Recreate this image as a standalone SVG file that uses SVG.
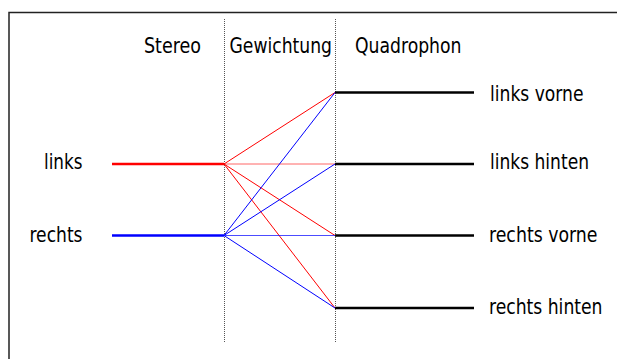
<svg xmlns="http://www.w3.org/2000/svg" width="617" height="359" viewBox="0 0 617 359">
<style>
text{font-family:"DejaVu Sans Condensed","DejaVu Sans",sans-serif;font-size:21px;fill:#000}
.frame{stroke:#222;stroke-width:1.5;fill:none}
.dot{stroke:#555;stroke-width:1;stroke-dasharray:1,1;fill:none}
.out{stroke:#000;stroke-width:2.5;fill:none}
.inR{stroke:#f00;stroke-width:2.5;fill:none}
.inB{stroke:#00f;stroke-width:2.5;fill:none}
.r{stroke:#f00;stroke-width:1;fill:none}
.b{stroke:#00f;stroke-width:1;fill:none}
</style>
<rect width="617" height="359" fill="#fff"/>
<path class="frame" d="M9,359 V12.5 H617"/>
<g id="headers">
<text x="144" y="52.5" textLength="57" lengthAdjust="spacingAndGlyphs">Stereo</text>
<text x="229.5" y="52.5" textLength="102.5" lengthAdjust="spacingAndGlyphs">Gewichtung</text>
<text x="355" y="52.5" textLength="106.5" lengthAdjust="spacingAndGlyphs">Quadrophon</text>
</g>
<g id="dividers">
<line class="dot" x1="224.5" y1="19" x2="224.5" y2="343"/>
<line class="dot" x1="335.5" y1="19" x2="335.5" y2="343"/>
</g>
<g id="links">
<text x="44" y="169" textLength="38.5" lengthAdjust="spacingAndGlyphs">links</text>
<line class="inR" x1="112" y1="164" x2="224" y2="164"/>
</g>
<g id="rechts">
<text x="29.5" y="241.5" textLength="53" lengthAdjust="spacingAndGlyphs">rechts</text>
<line class="inB" x1="112" y1="235.5" x2="224" y2="235.5"/>
</g>
<g id="links-vorne">
<line class="out" x1="335" y1="92.5" x2="474" y2="92.5"/>
<text x="490" y="100.5" textLength="93.5" lengthAdjust="spacingAndGlyphs">links vorne</text>
</g>
<g id="links-hinten">
<line class="out" x1="335" y1="164" x2="474" y2="164"/>
<text x="490" y="169" textLength="99" lengthAdjust="spacingAndGlyphs">links hinten</text>
</g>
<g id="rechts-vorne">
<line class="out" x1="335" y1="235.5" x2="474" y2="235.5"/>
<text x="489" y="241.5" textLength="108.5" lengthAdjust="spacingAndGlyphs">rechts vorne</text>
</g>
<g id="rechts-hinten">
<line class="out" x1="335" y1="308" x2="474" y2="308"/>
<text x="489" y="314" textLength="113.5" lengthAdjust="spacingAndGlyphs">rechts hinten</text>
</g>
<g id="connectors">
<line class="r" x1="224" y1="164" x2="335" y2="92.5"/>
<line class="r" x1="224" y1="164" x2="335" y2="164" stroke-opacity="0.6"/>
<line class="r" x1="224" y1="164" x2="335" y2="235.5"/>
<line class="r" x1="224" y1="164" x2="335" y2="308"/>
<line class="b" x1="224" y1="235.5" x2="335" y2="92.5"/>
<line class="b" x1="224" y1="235.5" x2="335" y2="164"/>
<line class="b" x1="224" y1="235.5" x2="335" y2="235.5" stroke-opacity="0.7"/>
<line class="b" x1="224" y1="235.5" x2="335" y2="308"/>
</g>
</svg>
